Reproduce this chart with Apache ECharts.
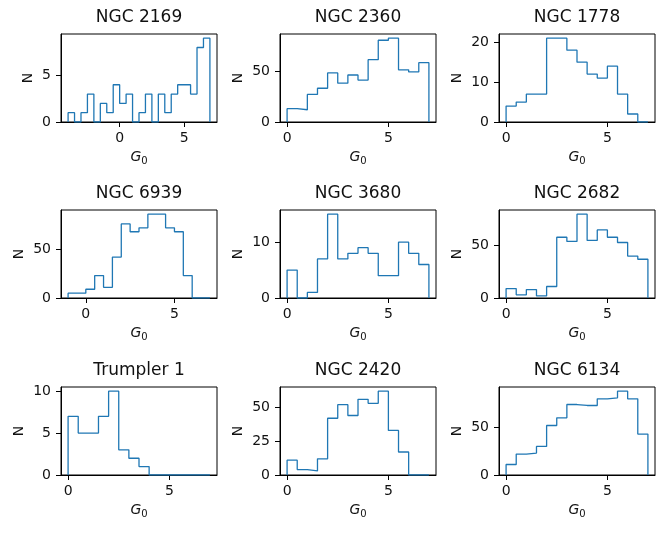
<!DOCTYPE html>
<html>
<head>
<meta charset="utf-8">
<script src="https://cdn.jsdelivr.net/npm/echarts@6/dist/echarts.min.js"></script>
<style>
html, body { margin: 0; padding: 0; background: #fff; }
#chart { width: 665px; height: 533px; }
</style>
</head>
<body>
<div id="chart"></div>
<script>
// cluster names, one panel each (row by row)
const clusterNames = ['NGC 2169', 'NGC 2360', 'NGC 1778', 'NGC 6939', 'NGC 3680', 'NGC 2682', 'Trumpler 1', 'NGC 2420', 'NGC 6134'];
// left edge of first bin, all bins 0.5 wide
const binStart = [-4, 0, 0, -1, 0, 0, 0, 0, 0];
const binWidth = 0.5;

// counts per bin
const ngc2169 = [1, 0, 1, 3, 0, 2, 1, 4, 2, 3, 0, 1, 3, 0, 3, 1, 3, 4, 4, 3, 8, 9];
const ngc2360 = [13, 12, 27, 33, 48, 38, 46, 41, 61, 80, 82, 51, 49, 58];
const ngc1778 = [4, 5, 7, 7, 21, 21, 18, 15, 12, 11, 14, 7, 2, 0];
const ngc6939 = [5, 5, 9, 23, 11, 42, 76, 68, 72, 86, 86, 72, 68, 23, 0, 0];
const ngc3680 = [5, 0, 1, 7, 15, 7, 8, 9, 8, 4, 4, 10, 8, 6];
const ngc2682 = [9, 3, 8, 2, 11, 58, 54, 80, 55, 65, 58, 53, 40, 37];
const trumpler1 = [7, 5, 5, 7, 10, 3, 2, 1, 0, 0, 0, 0, 0, 0];
const ngc2420 = [11, 4, 3, 12, 42, 52, 44, 56, 53, 62, 33, 17, 0, 0];
const ngc6134 = [11, 22, 23, 30, 52, 60, 74, 73, 73, 80, 81, 88, 80, 43];
const allCounts = [ngc2169, ngc2360, ngc1778, ngc6939, ngc3680, ngc2682, trumpler1, ngc2420, ngc6134];

// tick labels
const xTicks = [-5, 0, 5];
const yTicks = [[0, 5], [0, 50], [0, 10, 20], [0, 50], [0, 10], [0, 50], [0, 5, 10], [0, 25, 50], [0, 50]];

// panel layout
const colLeft = [61, 280, 499];
const rowTop = [34, 210, 387];
const panelW = 156;
const panelH = 88;

const font = 'DejaVu Sans';
const ink = '#111';

// outline of a step histogram
function stepPoints(start, counts) {
    const pts = [[start, 0]];
    counts.forEach((c, i) => {
        pts.push([start + i * binWidth, c]);
        pts.push([start + (i + 1) * binWidth, c]);
    });
    pts.push([start + counts.length * binWidth, 0]);
    return pts;
}

const grids = [], xAxes = [], yAxes = [], series = [], titles = [];

allCounts.forEach((counts, i) => {
    const col = i % 3, row = Math.floor(i / 3);
    const lo = binStart[i];
    const hi = lo + counts.length * binWidth;
    const pad = (hi - lo) * 0.05;
    const top = Math.max(...counts) * 1.05;
    const labelDigits = Math.max(...yTicks[i].map(v => String(v).length));

    grids.push({
        left: colLeft[col], top: rowTop[row], width: panelW, height: panelH,
        show: true, borderColor: '#000', borderWidth: 1, backgroundColor: 'transparent'
    });
    titles.push({
        text: clusterNames[i],
        left: colLeft[col] + panelW / 2,
        top: rowTop[row] - 25,
        textAlign: 'center',
        padding: 0,
        textStyle: { fontFamily: font, fontSize: 17, fontWeight: 'normal', color: ink }
    });
    xAxes.push({
        type: 'value', gridIndex: i, min: lo - pad, max: hi + pad,
        axisLine: { show: true, onZero: false, lineStyle: { color: '#000', width: 1 } },
        axisTick: { show: true, length: 5, customValues: xTicks, lineStyle: { color: '#000' } },
        axisLabel: { customValues: xTicks, margin: 9, fontFamily: font, fontSize: 14, color: ink },
        splitLine: { show: false },
        name: '{g|G}{s|0}',
        nameLocation: 'middle',
        nameGap: 27,
        nameTextStyle: {
            rich: {
                g: { fontFamily: font, fontStyle: 'italic', fontSize: 14, color: ink },
                s: { fontFamily: font, fontSize: 10, color: ink, padding: [7, 0, 0, 0] }
            }
        }
    });
    yAxes.push({
        type: 'value', gridIndex: i, min: 0, max: top,
        axisLine: { show: true, onZero: false, lineStyle: { color: '#000', width: 1 } },
        axisTick: { show: true, length: 5, customValues: yTicks[i], lineStyle: { color: '#000' } },
        axisLabel: { customValues: yTicks[i], margin: 10, fontFamily: font, fontSize: 14, color: ink },
        splitLine: { show: false },
        name: 'N',
        nameLocation: 'middle',
        nameGap: labelDigits === 1 ? 26 : 35,
        nameTextStyle: { fontFamily: font, fontSize: 14, color: ink }
    });
    series.push({
        type: 'line', xAxisIndex: i, yAxisIndex: i,
        data: stepPoints(lo, counts),
        showSymbol: false,
        lineStyle: { color: '#1f77b4', width: 1.3 },
        emphasis: { disabled: true }
    });
});

const chart = echarts.init(document.getElementById('chart'));
chart.setOption({
    animation: false,
    title: titles,
    grid: grids,
    xAxis: xAxes,
    yAxis: yAxes,
    series: series
});
</script>
</body>
</html>
